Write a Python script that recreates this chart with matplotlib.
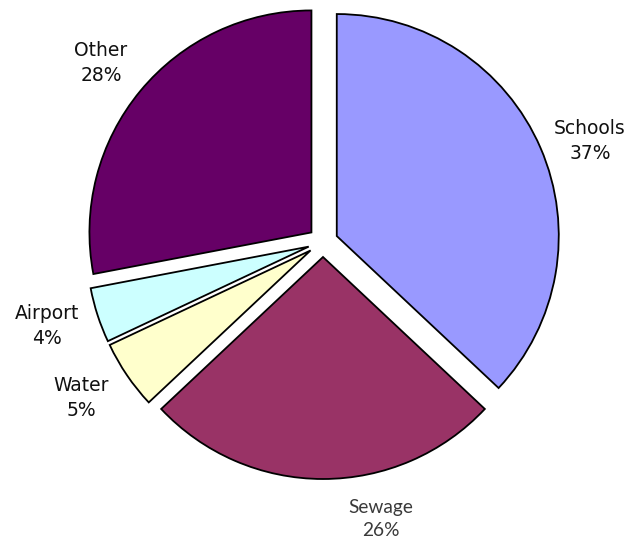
import matplotlib.pyplot as plt
import numpy as np

categories = ['Schools', 'Sewage', 'Water', 'Airport', 'Other']
shares = [37, 26, 5, 4, 28]
colors = ['#9999FF', '#993366', '#FFFFCC', '#CCFFFF', '#660066']
# label anchor points (pixels, y measured from the bottom)
label_xy = [(590, 401), (381, 23), (81, 144), (47, 216), (101, 479)]

W, H = 643, 542
fig = plt.figure(figsize=(W / 100, H / 100), dpi=100)
ax = fig.add_axes([0, 0, 1, 1])

# explode is in data units here, i.e. pixels
wedges, _ = ax.pie(shares, colors=colors, startangle=90, counterclock=False,
                   explode=[15] * len(shares), center=(323, 300), radius=222,
                   wedgeprops=dict(edgecolor='black', linewidth=1.3))

ax.set_xlim(0, W)
ax.set_ylim(0, H)
ax.set_aspect('equal')
ax.axis('off')

for name, pct, (x, y) in zip(categories, shares, label_xy):
    if name == 'Sewage':
        ax.text(x, y, f'{name}\n{pct}%', ha='center', va='center', fontsize=13.8,
                family='Lato', color='#3a3a3a', linespacing=1.4)
    else:
        ax.text(x, y, f'{name}\n{pct}%', ha='center', va='center', fontsize=13.5,
                family='DejaVu Sans', color='#111111', linespacing=1.42)

fig.savefig('out.png', dpi=100)
